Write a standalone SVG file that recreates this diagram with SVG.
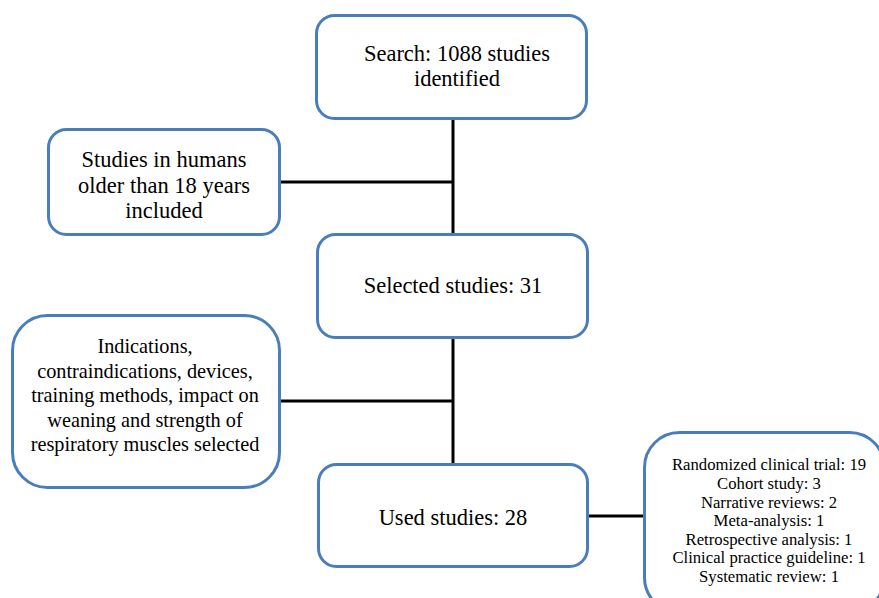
<svg xmlns="http://www.w3.org/2000/svg" width="879" height="598" viewBox="0 0 879 598">
<style>
.box{fill:#fff;stroke:#4a7ebb;stroke-width:3}
.t{font-family:"Liberation Serif","Times New Roman",serif;font-size:22.5px;fill:#000;text-anchor:middle}
.m{font-family:"Liberation Serif","Times New Roman",serif;font-size:20.3px;fill:#000;text-anchor:middle}
.s{font-family:"Liberation Serif","Times New Roman",serif;font-size:16.7px;fill:#000;text-anchor:middle}
.c{stroke:#000;stroke-width:3;fill:none}
</style>
<rect width="879" height="598" fill="#fff"/>
<g id="connectors">
<line class="c" x1="453" y1="118" x2="453" y2="234"/>
<line class="c" x1="279" y1="182" x2="453" y2="182"/>
<line class="c" x1="453" y1="337" x2="453" y2="464"/>
<line class="c" x1="279" y1="401" x2="453" y2="401"/>
<line class="c" x1="587" y1="516" x2="644" y2="516"/>
</g>
<g id="search">
<rect class="box" x="316.5" y="15.5" width="270" height="103" rx="18"/>
<text class="t" x="457" y="61">Search: 1088 studies</text>
<text class="t" x="457" y="86">identified</text>
</g>
<g id="humans">
<rect class="box" x="48.5" y="129.5" width="231" height="105" rx="18"/>
<text class="t" x="164" y="167">Studies in humans</text>
<text class="t" x="164" y="193">older than 18 years</text>
<text class="t" x="164" y="218">included</text>
</g>
<g id="selected">
<rect class="box" x="317.5" y="234.5" width="270" height="103" rx="18"/>
<text class="t" x="453" y="293">Selected studies: 31</text>
</g>
<g id="indications">
<rect class="box" x="12.5" y="315.5" width="267" height="172" rx="35"/>
<text class="m" x="145" y="353">Indications,</text>
<text class="m" x="145" y="377.5">contraindications, devices,</text>
<text class="m" x="145" y="402">training methods, impact on</text>
<text class="m" x="145" y="426.5">weaning and strength of</text>
<text class="m" x="145" y="451">respiratory muscles selected</text>
</g>
<g id="used">
<rect class="box" x="318.5" y="464.5" width="269" height="102" rx="18"/>
<text class="t" x="453" y="525">Used studies: 28</text>
</g>
<g id="types">
<rect class="box" x="644.5" y="432.5" width="240" height="180" rx="35"/>
<text class="s" x="769" y="470">Randomized clinical trial: 19</text>
<text class="s" x="769" y="489">Cohort study: 3</text>
<text class="s" x="769" y="507.5">Narrative reviews: 2</text>
<text class="s" x="769" y="526">Meta-analysis: 1</text>
<text class="s" x="769" y="544.5">Retrospective analysis: 1</text>
<text class="s" x="769" y="563">Clinical practice guideline: 1</text>
<text class="s" x="769" y="581.5">Systematic review: 1</text>
</g>
</svg>
